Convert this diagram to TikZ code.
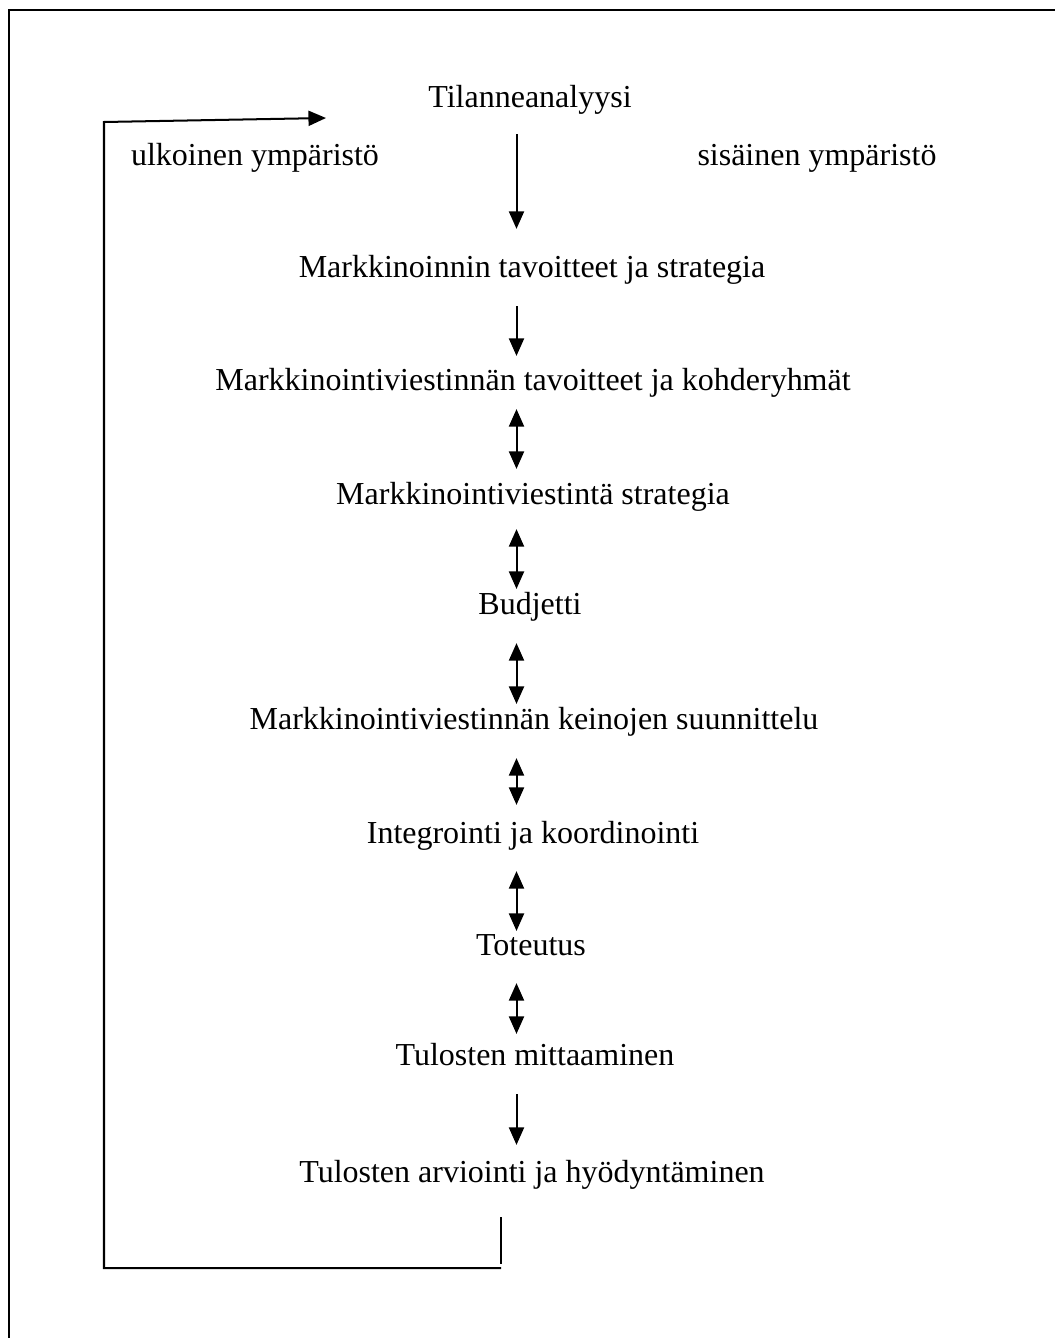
\documentclass[tikz,border=0pt]{standalone}
\usepackage{fontspec}
\setmainfont{Liberation Serif}
\usetikzlibrary{arrows.meta, positioning}

\begin{document}
\begin{tikzpicture}[
    x=0.014cm, y=-0.014cm,
    line width=0.8pt,
    stage/.style={inner sep=0pt, text height=9pt, text depth=3pt, font=\fontsize{12.75}{15}\selectfont},
    oneway/.style={-{Triangle[length=7pt, width=6pt]}},
    twoway/.style={{Triangle[length=7pt, width=6pt]}-{Triangle[length=7pt, width=6pt]}},
    gap/.style 2 args={shorten <=#1, shorten >=#2},
]
    \useasboundingbox (0,0) rectangle (1055,1338);
    % frame
    \draw (1055,10) -- (9,10) -- (9,1338);

    \node[stage] (tila) at (530,100) {Tilanneanalyysi};
    \node[stage] (ulko) at (255,158) {ulkoinen ympäristö};
    \node[stage] (sisa) at (817,158) {sisäinen ympäristö};
    \node[stage] (mtav) at (532,270) {Markkinoinnin tavoitteet ja strategia};
    \node[stage] (vtav) at (533,383) {Markkinointiviestinnän tavoitteet ja kohderyhmät};
    \node[stage] (vstr) at (533,497) {Markkinointiviestintä strategia};
    \node[stage] (budj) at (530,607) {Budjetti};
    \node[stage] (keino) at (534,722) {Markkinointiviestinnän keinojen suunnittelu};
    \node[stage] (integ) at (533,836) {Integrointi ja koordinointi};
    \node[stage] (totu) at (531,948) {Toteutus};
    \node[stage] (mitt) at (535,1058) {Tulosten mittaaminen};
    \node[stage] (arvi) at (532,1175) {Tulosten arviointi ja hyödyntäminen};

    % arrows between stages
    \coordinate (axis) at (516.5,0);
    \draw[oneway, gap={7.2pt}{10pt}] (tila.south -| axis) -- (mtav.north -| axis);
    \draw[oneway, gap={8pt}{4.4pt}] (mtav.south -| axis) -- (vtav.north -| axis);
    \draw[twoway, gap={4pt}{4.8pt}] (vtav.south -| axis) -- (vstr.north -| axis);
    \draw[twoway, gap={6.4pt}{0.8pt}] (vstr.south -| axis) -- (budj.north -| axis);
    \draw[twoway, gap={8pt}{0.8pt}] (budj.south -| axis) -- (keino.north -| axis);
    \draw[twoway, gap={8pt}{6pt}] (keino.south -| axis) -- (integ.north -| axis);
    \draw[twoway, gap={7.6pt}{0.4pt}] (integ.south -| axis) -- (totu.north -| axis);
    \draw[twoway, gap={7.6pt}{3.2pt}] (totu.south -| axis) -- (mitt.north -| axis);
    \draw[oneway, gap={8pt}{5.6pt}] (mitt.south -| axis) -- (arvi.north -| axis);

    % feedback loop
    \coordinate (fbx) at (501,0);
    \coordinate (fbend) at (326,118);
    \draw[shorten <=10.4pt] (arvi.south -| fbx) -- (501,1264);
    \draw[oneway] (501,1268) -- (104,1268) -- (104,122) -- (fbend);
\end{tikzpicture}
\end{document}
